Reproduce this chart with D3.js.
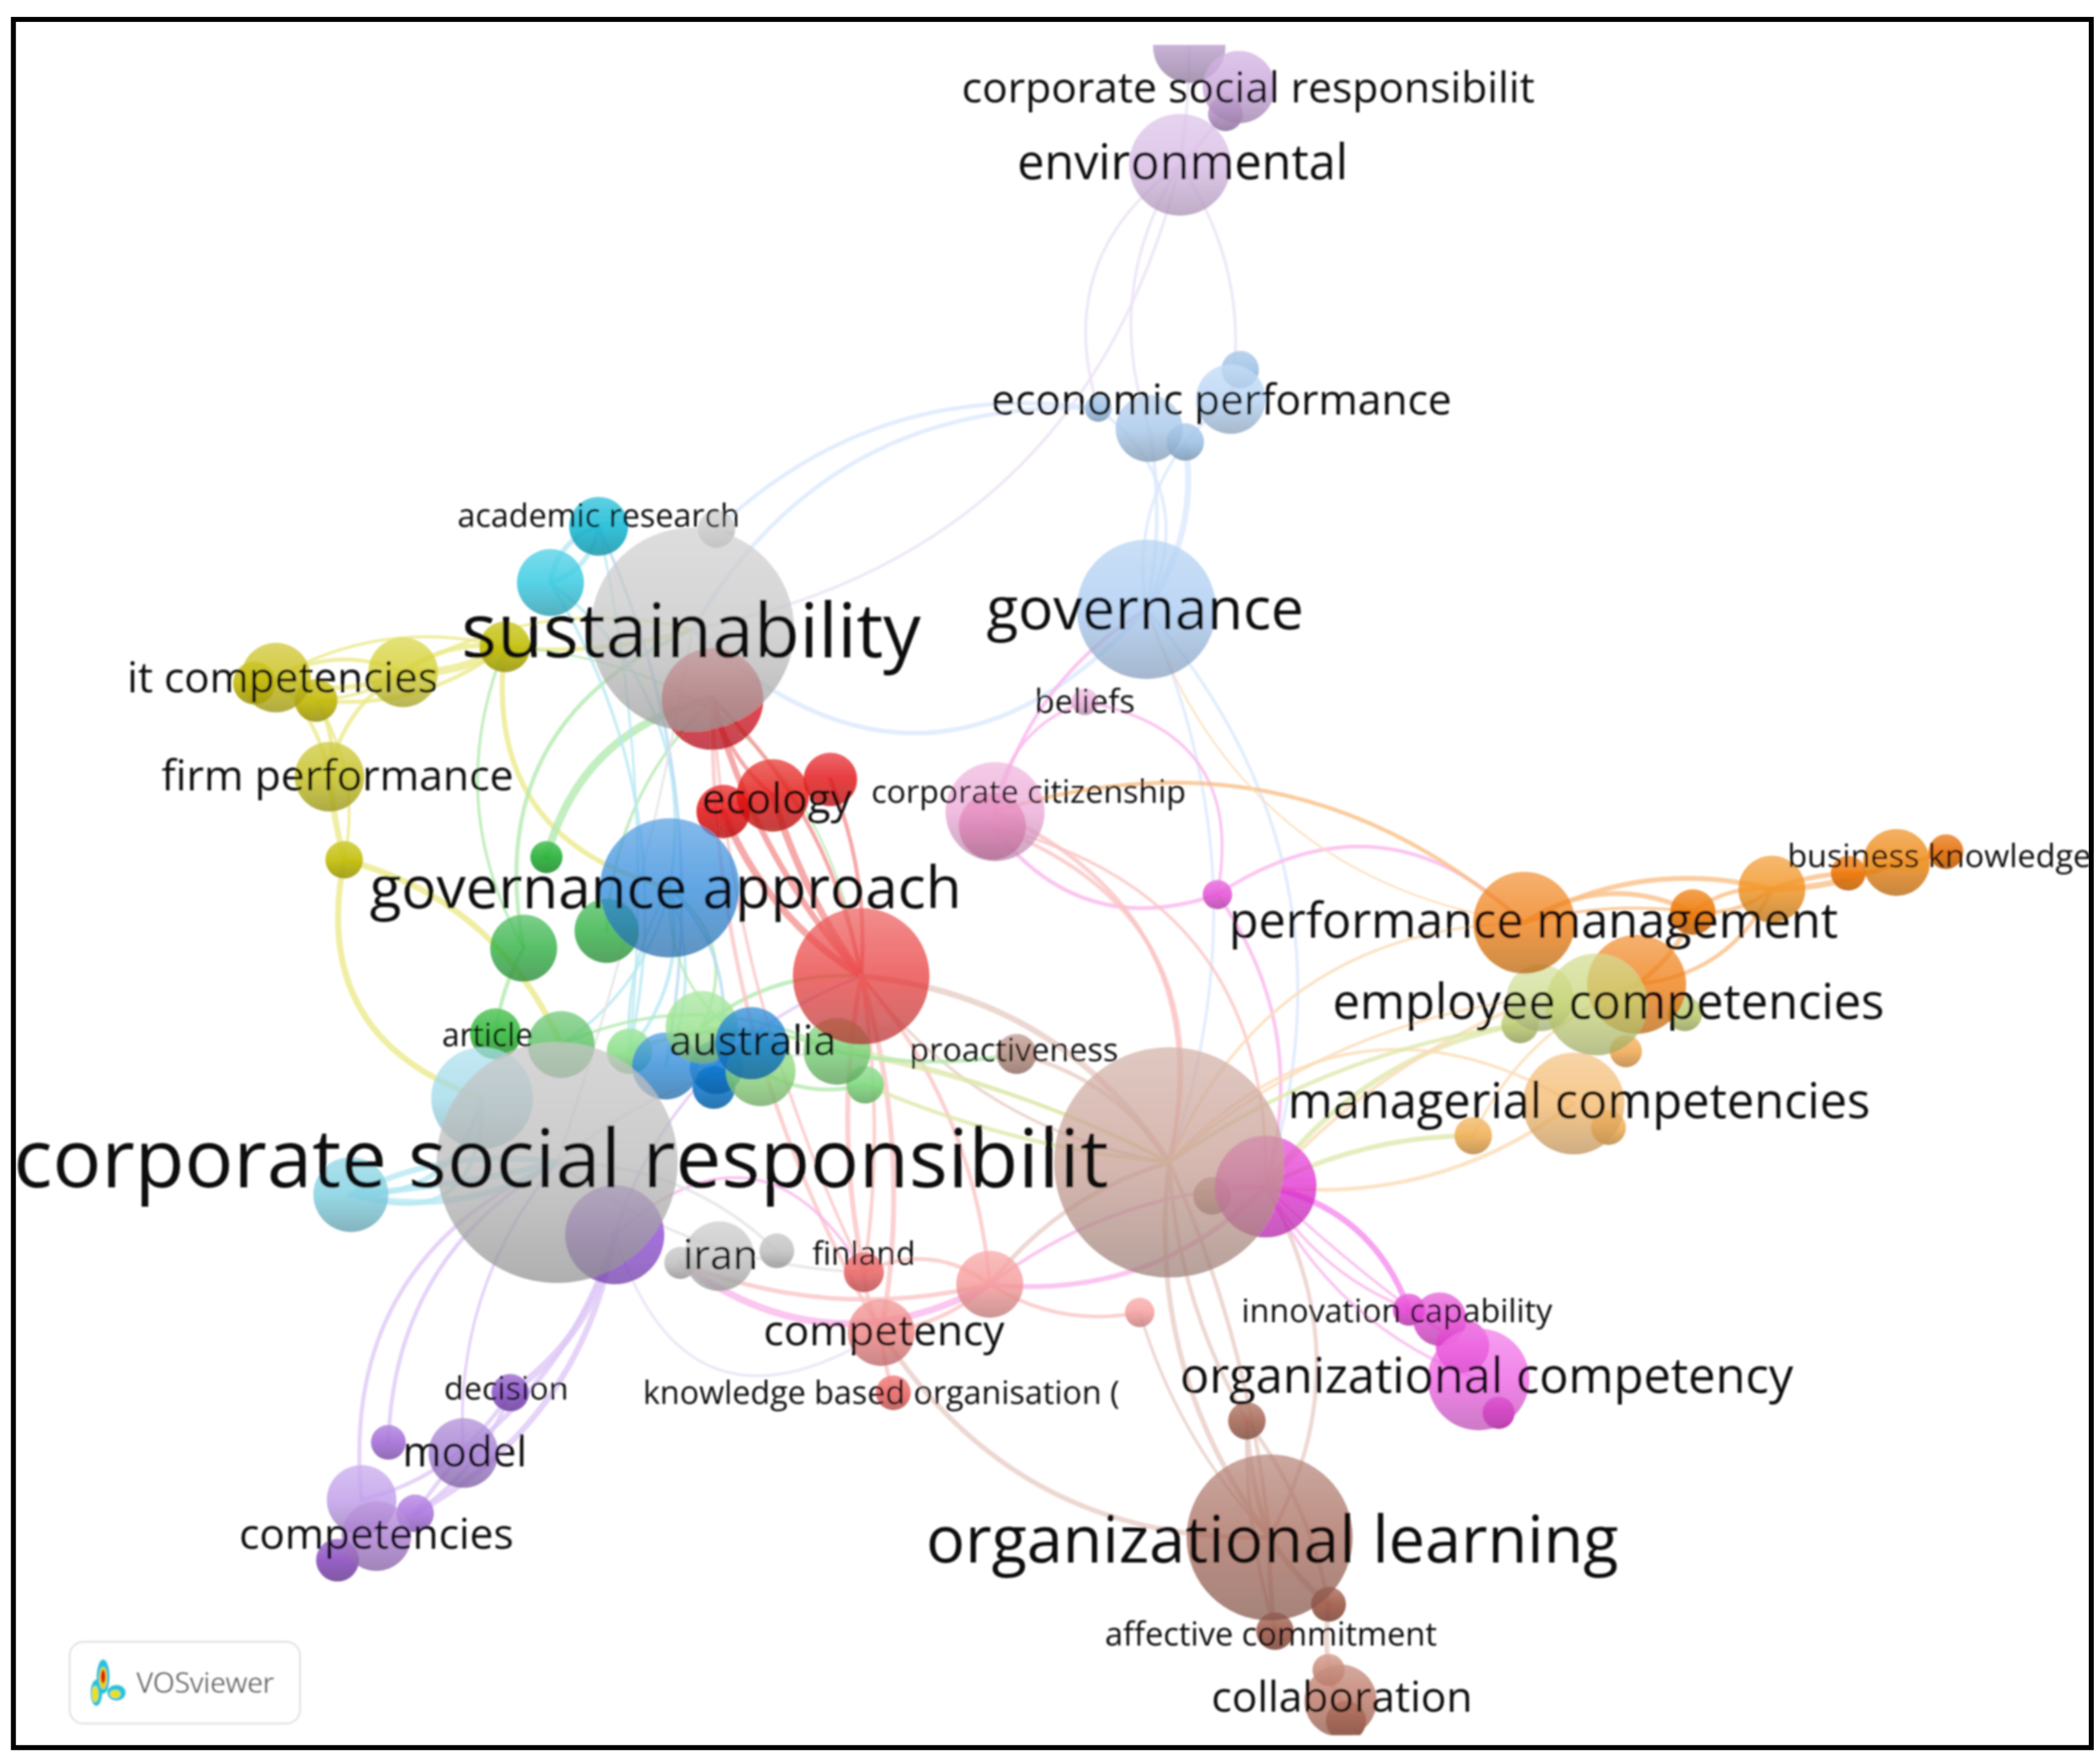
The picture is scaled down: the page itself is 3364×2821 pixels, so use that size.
<!DOCTYPE html>
<html><head><meta charset="utf-8">
<script src="https://cdn.jsdelivr.net/npm/d3@7"></script>
<style>html,body{margin:0;padding:0;background:#fff}svg{display:block}text{font-family:"Open Sans",sans-serif}</style>
</head><body><svg id="c"></svg>
<script>
// map coordinates, weights (id, x, y, radius)
const grayNodes=[["csr",416,868,90],["sus",517,470,76],["gs1",535,395,14],["iran",537,938,26],["gs2",508,943,12],["gs3",580,934,13]];
const cyanNodes=[["cy1",447,393,22],["cy2",411,435,25],["lb1",360,820,38],["lb2",262,892,28]];
const yellowNodes=[["y1",206,506,26],["y0",190,510,16],["y2",236,523,16],["y3",301,502,26],["y4",377,483,19],["y5",246,580,26],["y6",257,642,14]];
const redNodes=[["r1",532,522,38],["r2",577,594,27],["r3",620,582,20],["r4",540,606,20],["r5",643,729,51]];
const greenNodes=[["g1",408,640,12],["g2",391,708,25],["g3",453,695,24],["g4",370,772,19],["g5",419,780,25],["g6",470,785,17],["g7",524,767,27],["g8",568,800,26],["g9",625,785,25],["g10",646,810,14]];
const blueNodes=[["b1",500,663,52],["b2",561,779,27],["b3",497,796,25],["b4",535,797,20],["b5",533,812,16]];
const pinkNodes=[["p1",743,606,37],["p2",741,617,25],["p3",810,524,10],["p4",909,668,11],["p5",945,886,38]];
const roseNodes=[["s1",658,995,25],["s2",739,959,25],["s3",645,950,15],["s4",851,980,11],["s5",667,1040,13]];
const brownNodes=[["w1",873,868,86],["w2",948,1148,62],["w3",931,1061,14],["w4",759,787,15],["w5",992,1198,13],["w6",952,1218,14],["w7",992,1247,12],["w8",1001,1270,27],["w9",1005,1285,15],["w10",905,893,14]];
const magentaNodes=[["m1",1104,1030,38],["m2",1052,978,12],["m3",1075,985,20],["m4",1092,1005,20],["m5",1119,1055,12]];
const orangeNodes=[["o1",1138,689,38],["o2",1264,681,17],["o3",1323,664,25],["o4",1380,652,13],["o5",1416,644,25],["o6",1453,636,13],["o7",1222,735,37],["o8",1214,785,12]];
const peachNodes=[["e1",1175,824,38],["e2",1100,848,14],["e3",1201,842,13]];
const oliveNodes=[["l1",1192,750,38],["l2",1150,745,25],["l3",1135,765,14],["l4",1258,757,13]];
const lilacNodes=[["v1",881,123,38],["v2",888,35,27],["v3",925,65,27],["v4",915,85,13]];
const skyNodes=[["k1",856,455,52],["k2",919,298,26],["k3",858,320,25],["k4",885,330,14],["k5",926,276,14],["k6",820,305,10]];
const purpleNodes=[["u1",459,922,37],["u2",381,1040,14],["u3",346,1085,26],["u4",290,1077,13],["u5",270,1120,26],["u6",281,1147,26],["u7",310,1130,14],["u8",252,1165,16]];

// links: source, target, bend, weight, cluster that tints the link
const links=[
["v1","k6",.18,1.5,"v"],["v1","k3",.12,1.5,"v"],["v1","k2",-.1,1.5,"v"],["v1","sus",-.16,1.5,"v"],["v1","v2",.02,1.5,"v"],["v1","v3",.04,1.5,"v"],
["k1","k6",.2,1.5,"k"],["k1","k3",.05,1.8,"k"],["k1","k4",.1,3,"k"],["k1","k2",-.15,1.5,"k"],["k6","gs1",.12,2,"k"],["k6","sus",.15,2,"k"],
["k1","sus",-.25,2.2,"k"],["k1","p5",-.14,1.6,"k"],["k1","w1",-.1,1.5,"k"],
["k1","p1",.1,1.8,"p"],["p3","p1",.15,1.5,"p"],["p3","p4",-.25,1.5,"p"],["p4","p2",-.18,2,"p"],["p4","p5",-.12,1.8,"p"],["p4","o1",-.2,1.8,"p"],
["p1","o1",-.14,2,"o"],["p1","w1",-.2,2,"s"],["p2","w1",-.22,2,"s"],["p2","p5",-.2,1.5,"s"],["k1","o1",.15,1,"e"],
["y1","y3",.1,2.5,"y"],["y1","y3",-.12,2,"y"],["y0","y3",.14,1.5,"y"],["y3","y4",.08,4,"y"],["y3","y4",-.1,2.5,"y"],["y2","y4",.1,2,"y"],["y1","y4",-.1,1.5,"y"],
["y5","y1",.08,2,"y"],["y5","y2",.1,2,"y"],["y5","y3",-.12,2,"y"],["y5","y6",.02,3,"y"],["y2","y6",-.1,1.5,"y"],["y6","lb1",.22,3,"y"],["y6","g5",-.12,3,"y"],
["y4","b1",.22,2.5,"y"],["y4","g2",.12,1.5,"g"],["y4","sus",.05,2,"y"],["y4","r5",-.2,1,"g"],["y3","sus",-.1,1.5,"y"],
["g1","r1",-.15,4,"g"],["g2","sus",-.2,2,"g"],["g3","r1",-.1,1.5,"g"],["g2","g4",.05,2,"g"],["g7","r5",-.1,2,"g"],["b1","g7",-.2,1.5,"g"],
["cy1","cy2",.15,2.5,"c"],["cy1","cy2",-.15,2.5,"c"],["cy2","b1",-.15,1.5,"c"],["cy1","b3",-.08,1.5,"b"],["cy2","g6",-.1,1.5,"c"],["cy1","g6",-.04,1.2,"c"],
["g5","b1",.1,1.5,"c"],["g6","b1",.12,1.8,"c"],["g6","b1",-.08,1.5,"c"],["b3","b1",.1,1.5,"c"],["b4","b1",.14,1.5,"b"],["b2","b1",-.15,1.2,"g"],
["r1","r5",.06,3,"r"],["r1","r5",-.08,2,"r"],["r2","r5",.04,3.5,"r"],["r4","r5",.08,3.5,"r"],["r3","r5",-.06,2,"r"],["r1","r2",.08,2,"r"],
["r5","w1",-.12,3,"w"],["r5","w1",.1,1.5,"w"],["r5","s1",-.06,2.5,"s"],["r5","s3",.05,2.5,"s"],["r5","s3",-.04,1.8,"s"],["r5","s2",-.08,2,"s"],["r1","s1",.07,2,"s"],["r1","s3",.05,1.5,"s"],
["s2","w1",-.08,2.2,"w"],["s1","s2",.08,2,"s"],["s3","s2",-.15,2,"s"],["s2","s4",.1,1.8,"s"],["s1","w2",.14,2.5,"w"],["s4","w2",.06,1.5,"w"],["s1","s5",.03,2,"s"],["s3","s1",.05,2,"s"],["s2","p5",.12,2.5,"p"],["s2","p5",-.08,1.8,"p"],
["gs2","s2",.16,3.5,"p"],["gs2","s2",.08,2.2,"s"],["u1","s1",.32,1.5,"v"],["u1","s3",-.3,1.5,"p"],["csr","s3",.08,1.5,"a"],["csr","gs3",-.1,1.5,"a"],["csr","sus",.02,1.2,"a"],["u1","r5",-.12,1.5,"u"],
["u1","u2",-.1,3.5,"u"],["u1","u3",-.08,2.5,"u"],["csr","u4",.14,2,"u"],["csr","u5",.18,2,"u"],["csr","u3",.1,1.5,"u"],["u2","u5",-.1,2,"u"],["u1","u7",-.12,3,"u"],["u3","u7",.02,2,"u"],["u2","u7",-.08,2,"u"],
["lb2","csr",.1,3,"c"],["lb2","csr",.02,3,"c"],["lb2","csr",-.08,3,"c"],["lb2","lb1",.2,2.5,"c"],["lb2","lb1",.34,2,"c"],
["w1","w2",.1,2.5,"w"],["w1","w2",-.04,2,"w"],["w1","w3",.06,2,"w"],["p5","w2",-.14,2,"w"],["w3","w2",.04,2.5,"w"],["w3","w5",-.06,2,"w"],["w3","w6",.04,1.8,"w"],["w2","w5",.04,3,"w"],["w2","w6",.02,2.5,"w"],["w5","w7",.03,2.5,"w"],["w7","w8",.05,3,"w"],["w4","w1",-.1,2,"w"],
["p5","m2",-.14,3,"m"],["p5","m3",.1,1.5,"p"],["p5","m1",.1,1.5,"p"],["p5","m4",.02,1.4,"p"],
["p5","e2",-.06,2.5,"l"],["p5","l3",-.1,2.5,"l"],["p5","l2",-.06,1.8,"e"],["p5","e1",.1,2,"e"],["w1","e1",-.2,1.5,"e"],["w1","l2",-.08,1.5,"e"],["e2","o7",-.1,1.5,"e"],["w1","o1",-.16,1.5,"e"],["w1","l3",-.06,2,"l"],
["o1","o2",-.14,2.5,"o"],["o1","o3",-.1,2.5,"o"],["o1","o2",-.05,1.5,"o"],["o7","o3",.14,2,"o"],["o7","o2",.08,2.5,"o"],["o2","o3",-.1,2,"o"],["o2","o3",.1,2,"o"],["o3","o5",.05,3,"o"],["o3","o4",-.04,2.5,"o"],["o4","o5",.08,2,"o"],["o5","o6",.05,2,"o"],
["g9","w1",-.04,2,"l"],["g7","w1",-.05,1.2,"l"],["g10","w1",.04,2,"l"],["g6","g9",-.1,2,"g"],["g9","w4",.05,2,"g"],["g8","g10",.1,2,"g"],["g5","g9",-.12,1.5,"g"],["csr","g9",-.08,1.2,"a"]
];

// labels: text, centre x, centre y, width
const labelText=["corporate social responsibilit","sustainability","governance","governance approach","organizational learning","performance management","employee competencies","managerial competencies","organizational competency","collaboration","affective commitment","innovation capability","competency","knowledge based organisation (","finland","iran","competencies","model","decision","article","australia","proactiveness","ecology","corporate citizenship","beliefs","firm performance","it competencies","academic research","economic performance","environmental","corporate social responsibilit","business knowledge"];
const labelX=[419,516,855,497,950,1145,1201,1179,1110,1002,949,1043,660,658,645,538,281,347,378,364,562,757,580,768,810,252,211,447,912,883,932,1448];
const labelY=[863,469,453,661,1148,686,747,821,1026,1266,1219,978,992,1039,935,936,1144,1083,1036,772,776,783,595,590,523,578,505,384,297,120,64,638];
const labelW=[818,343,237,442,517,455,412,435,458,195,248,232,180,356,77,56,205,93,93,68,125,156,112,235,75,263,232,211,344,247,428,227];

// colours
const toneOf={csr:"#cbcbcb",sus:"#d4d4d4",gs1:"#d0d0d0",iran:"#cfcfcf",gs2:"#c8c8c8",gs3:"#c8c8c8",
cy1:"#22c2da",cy2:"#55d2e6",lb1:"#b4e2ee",lb2:"#97d8e6",
y1:"#d2ca40",y0:"#c8c020",y2:"#c8c020",y3:"#dcd855",y4:"#c8c41c",y5:"#cfcb45",y6:"#c8c41c",
r1:"#e44450",r2:"#e8403c",r3:"#e83c40",r4:"#e83034",r5:"#ee6c6c",
g1:"#38b848",g2:"#58c068",g3:"#58c068",g4:"#48c050",g5:"#78cc80",g6:"#98e498",g7:"#ace8a4",g8:"#a2e096",g9:"#90d88e",g10:"#8cdc8c",
b1:"#62a6e4",b2:"#3a92d8",b3:"#58a2e0",b4:"#3090d8",b5:"#2a88d4",
p1:"#f0bce0",p2:"#e06c98",p3:"#f0c0e4",p4:"#e868dc",p5:"#e85cdc",
s1:"#f29a9a",s2:"#f8acac",s3:"#ee7878",s4:"#f8acac",s5:"#ee7878",
w1:"#d6b8b0",w2:"#bc8f84",w3:"#b07868",w4:"#c09c92",w5:"#a86858",w6:"#a86a5c",w7:"#d09888",w8:"#c89082",w9:"#a06050",w10:"#b89a90",
m1:"#f284ea",m2:"#e858d8",m3:"#e868dc",m4:"#e860d8",m5:"#e040c8",
o1:"#f29a3c",o2:"#f08614",o3:"#f4a648",o4:"#f08410",o5:"#f09a38",o6:"#e87c08",o7:"#f29a40",o8:"#f4b468",
e1:"#f6c88e",e2:"#f2b868",e3:"#f2b868",
l1:"#d6e09a",l2:"#d8e4a8",l3:"#c6d284",l4:"#c6d284",
v1:"#dfc8ea",v2:"#c6b0d4",v3:"#d4b6e2",v4:"#bc9ccc",
k1:"#bcd6f4",k2:"#c4dcf6",k3:"#b8d2ee",k4:"#a8c8e8",k5:"#a8c8e8",k6:"#a8c8e8",
u1:"#a470dc",u2:"#9664cc",u3:"#b494da",u4:"#ac7cdc",u5:"#cbaeee",u6:"#bc96dc",u7:"#b484e2",u8:"#9660c6"};
const linkFill={a:"#e4e4e4",c:"#b8e8f2",g:"#b4eab0",y:"#ecea8c",r:"#f49494",b:"#b4daf4",p:"#fab8ec",s:"#fbc4c4",w:"#e8cdc6",m:"#f68cee",o:"#fac088",e:"#fbdcb8",l:"#dfe9ac",v:"#ebe2f5",k:"#dbe9fc",u:"#dfc8f6"};

const W=3364,H=2821;
const x=d3.scaleLinear().domain([0,1568]).range([0,W]);
const y=d3.scaleLinear().domain([0,1315]).range([0,H]);
const len=d3.scaleLinear().domain([0,1568]).range([0,W]);

const nodes=[].concat(grayNodes,cyanNodes,yellowNodes,redNodes,greenNodes,blueNodes,pinkNodes,roseNodes,brownNodes,magentaNodes,orangeNodes,peachNodes,oliveNodes,lilacNodes,skyNodes,purpleNodes)
  .map(d=>({id:d[0],x:d[1],y:d[2],r:d[3]}));
const byId=new Map(nodes.map(n=>[n.id,n]));

const svg=d3.select("#c").attr("width",W).attr("height",H).attr("viewBox",[0,0,W,H]);
const defs=svg.append("defs");
const blur=defs.append("filter").attr("id","soft").attr("x","-5%").attr("y","-5%").attr("width","110%").attr("height","110%");
blur.append("feGaussianBlur").attr("stdDeviation",1.7);
defs.append("clipPath").attr("id","view").append("rect")
  .attr("x",x(11)).attr("y",y(33.6)).attr("width",x(1549)).attr("height",y(1262));

const alphaOf=r=>r<20?.88:r<30?.8:.72;
const unmix=(c,alpha)=>{const k=d3.rgb(c);const f=v=>Math.max(0,Math.min(255,(v-255*(1-alpha))/alpha));return d3.rgb(f(k.r),f(k.g),f(k.b));};
const tint=(c,t,a)=>d3.interpolateRgb(c,t)(a);
nodes.forEach((n,i)=>{
  n.alpha=alphaOf(n.r);
  const base=unmix(toneOf[n.id],n.alpha);
  const g=defs.append("linearGradient").attr("id","n"+i).attr("x1",0).attr("y1",0).attr("x2",0).attr("y2",1);
  g.append("stop").attr("offset",0).attr("stop-color",tint(base,"#fff",.22));
  g.append("stop").attr("offset",.5).attr("stop-color",base.formatRgb());
  g.append("stop").attr("offset",1).attr("stop-color",tint(base,"#222",.26));
  n.grad="url(#n"+i+")";
});

const root=svg.append("g").attr("filter","url(#soft)");
const view=root.append("g").attr("clip-path","url(#view)");

const curve=l=>{
  const a=byId.get(l[0]),b=byId.get(l[1]);
  const ax=x(a.x),ay=y(a.y),bx=x(b.x),by=y(b.y);
  const mx=(ax+bx)/2,my=(ay+by)/2,dx=bx-ax,dy=by-ay;
  const p=d3.path();p.moveTo(ax,ay);p.quadraticCurveTo(mx-dy*l[2]*2,my+dx*l[2]*2,bx,by);
  return p.toString();
};
view.append("g").attr("fill","none").attr("stroke-linecap","round")
  .selectAll("path").data(links).join("path")
  .attr("d",curve).attr("stroke",l=>linkFill[l[4]])
  .attr("stroke-width",l=>l[3]*3.2).attr("stroke-opacity",.8);

view.append("g").selectAll("circle")
  .data(nodes.slice().sort((a,b)=>d3.ascending(a.r,b.r))).join("circle")
  .attr("cx",d=>x(d.x)).attr("cy",d=>y(d.y)).attr("r",d=>len(d.r))
  .attr("fill",d=>d.grad).attr("fill-opacity",d=>d.alpha);

const labelRows=labelText.map((t,i)=>({t,x:labelX[i],y:labelY[i],w:labelW[i]}));
root.append("g").attr("text-anchor","middle").attr("fill","#111").attr("dominant-baseline","central")
  .selectAll("text").data(labelRows).join("text")
  .text(d=>d.t).attr("x",d=>x(d.x)).attr("y",d=>y(d.y)).attr("font-size",50)
  .each(function(d){const w=this.getComputedTextLength();d3.select(this).attr("font-size",50*len(d.w)/w);});

// VOSviewer badge
const badge=root.append("g");
badge.append("rect").attr("x",x(52)).attr("y",y(1226)).attr("width",len(172)).attr("height",len(61)).attr("rx",22)
  .attr("fill","#fff").attr("stroke","#e2e2e2").attr("stroke-width",3);
const logoParts=[[77,1252,5,13,"#21c6dc"],[72,1264,4.5,10,"#21c6dc"],[87,1264,7,6,"#21c6dc"],[71,1265,2.5,6,"#e8e020"],[86,1265,4,3,"#e8e020"],[77,1253,3,8,"#e8d010"],[77,1252,1.8,5,"#e02010"]];
badge.selectAll("ellipse").data(logoParts).join("ellipse")
  .attr("cx",d=>x(d[0])).attr("cy",d=>y(d[1])).attr("rx",d=>len(d[2])).attr("ry",d=>len(d[3])).attr("fill",d=>d[4]);
badge.append("text").attr("x",x(153)).attr("y",y(1256)).attr("text-anchor","middle").attr("dominant-baseline","central")
  .attr("fill","#666").attr("font-size",46).attr("letter-spacing",-1).text("VOSviewer");

// frame
svg.append("rect").attr("x",x(10)).attr("y",y(14.5)).attr("width",x(1551.5)).attr("height",y(1290.5))
  .attr("fill","none").attr("stroke","#000").attr("stroke-width",8);
</script></body></html>
